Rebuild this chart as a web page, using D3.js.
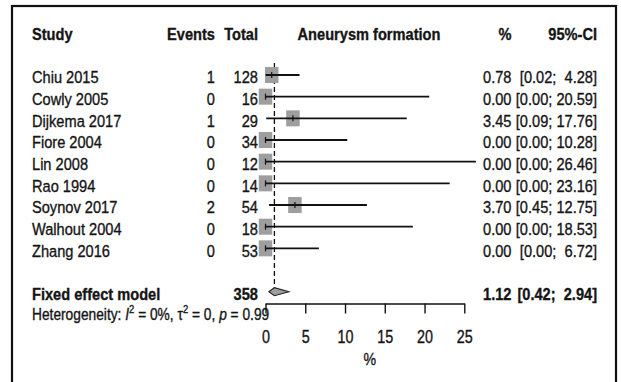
<!DOCTYPE html>
<html>
<head>
<meta charset="utf-8">
<script src="https://cdn.jsdelivr.net/npm/d3@7/dist/d3.min.js"></script>
<style>
  html, body { margin: 0; padding: 0; background: #fff; }
  svg { display: block; }
  text { font-family: "Liberation Sans", Arial, sans-serif; fill: #151515;
         stroke: #151515; stroke-width: 0.35; white-space: pre; }
</style>
</head>
<body>
<script>
// Forest plot: proportion of aneurysm formation per study (fixed effect meta-analysis)
const studies = ["Chiu 2015", "Cowly 2005", "Dijkema 2017", "Fiore 2004", "Lin 2008",
                 "Rao 1994", "Soynov 2017", "Walhout 2004", "Zhang 2016"];
const events  = [1, 0, 1, 0, 0, 0, 2, 0, 0];
const totals  = [128, 16, 29, 34, 12, 14, 54, 18, 53];
const estimates = [0.78, 0.00, 3.45, 0.00, 0.00, 0.00, 3.70, 0.00, 0.00];
const lowers    = [0.02, 0.00, 0.09, 0.00, 0.00, 0.00, 0.45, 0.00, 0.00];
const uppers    = [4.28, 20.59, 17.76, 10.28, 26.46, 23.16, 12.75, 18.53, 6.72];
const pooledLabel = "Fixed effect model";
const pooledTotal = 358;
const pooledEst = 1.12, pooledLower = 0.42, pooledUpper = 2.94;
const xTicks = [0, 5, 10, 15, 20, 25];
const headers = { study: "Study", events: "Events", total: "Total",
                  plot: "Aneurysm formation", pct: "%", ci: "95%-CI" };

const W = 621, H = 382;
const SX = 0.86; // horizontal condensing of all text

const svg = d3.select("body").append("svg").attr("width", W).attr("height", H);

// scales
const x = d3.scaleLinear().domain([0, 25]).range([265.5, 464.3]);
const row = d3.scaleLinear().domain([0, 1]).range([75, 96.67]); // row centre
const base = i => row(i) + 8.3;                                  // text baseline

// column anchors
const colStudy = 32, colEvents = 215, colTotal = 258, colPct = 511.5, colCI = 597;

function txt(g, px, py, s, opt = {}) {
  return g.append("text")
    .attr("transform", `translate(${px},${py}) scale(${SX},1)`)
    .attr("text-anchor", opt.anchor || "start")
    .attr("font-size", opt.size || 17)
    .attr("font-weight", opt.bold ? "bold" : "normal")
    .text(s);
}

// outer frame
svg.append("rect").attr("x", 12).attr("y", 6).attr("width", 604).attr("height", 420)
  .attr("fill", "none").attr("stroke", "#111").attr("stroke-width", 2.2);

const g = svg.append("g");

// header row
const hb = base(-2);
txt(g, colStudy, hb, headers.study, { bold: true });
txt(g, colEvents, hb, headers.events, { bold: true, anchor: "end" });
txt(g, colTotal, hb, headers.total, { bold: true, anchor: "end" });
txt(g, 369, hb, headers.plot, { bold: true, anchor: "middle" });
txt(g, colPct, hb, headers.pct, { bold: true, anchor: "end" });
txt(g, colCI, hb, headers.ci, { bold: true, anchor: "end" });

// pooled-estimate reference line (dashed)
const pooledRow = studies.length + 1;
g.append("line")
  .attr("x1", x(pooledEst)).attr("x2", x(pooledEst))
  .attr("y1", row(0) - 12).attr("y2", row(pooledRow) - 4)
  .attr("stroke", "#111").attr("stroke-width", 1.3).attr("stroke-dasharray", "5,3");

const fmt = d3.format(".2f");
const ciText = (lo, hi) => {
  const h = fmt(hi);
  return "[" + fmt(lo) + ";" + (h.length < 5 ? "  " : " ") + h + "]";
};

studies.forEach((s, i) => {
  const cy = row(i), by = base(i);
  txt(g, colStudy, by, s);
  txt(g, colEvents, by, String(events[i]), { anchor: "end" });
  txt(g, colTotal, by, String(totals[i]), { anchor: "end" });
  txt(g, colPct, by, fmt(estimates[i]), { anchor: "end" });
  txt(g, colCI, by, ciText(lowers[i], uppers[i]), { anchor: "end" });

  // box
  const bw = 13.5, bh = 16;
  g.append("rect")
    .attr("x", x(estimates[i]) - bw / 2).attr("y", cy - bh / 2)
    .attr("width", bw).attr("height", bh)
    .attr("fill", "#9e9e9e");
  // confidence interval
  g.append("line")
    .attr("x1", x(lowers[i])).attr("x2", x(uppers[i]))
    .attr("y1", cy).attr("y2", cy)
    .attr("stroke", "#111").attr("stroke-width", 1.8);
  // point estimate tick
  g.append("line")
    .attr("x1", x(estimates[i])).attr("x2", x(estimates[i]))
    .attr("y1", cy - 3).attr("y2", cy + 3)
    .attr("stroke", "#111").attr("stroke-width", 1.2);
});

// pooled row
const pb = base(pooledRow), pc = row(pooledRow);
txt(g, colStudy, pb, pooledLabel, { bold: true });
txt(g, colTotal, pb, String(pooledTotal), { bold: true, anchor: "end" });
txt(g, colPct, pb, fmt(pooledEst), { bold: true, anchor: "end" });
txt(g, colCI, pb, ciText(pooledLower, pooledUpper), { bold: true, anchor: "end" });

g.append("path")
  .attr("d", `M${x(pooledLower)},${pc} L${x(pooledEst)},${pc - 4} L${x(pooledUpper)},${pc} L${x(pooledEst)},${pc + 4} Z`)
  .attr("fill", "#9e9e9e").attr("stroke", "#222").attr("stroke-width", 1.1);

// heterogeneity line
const het = g.append("text")
  .attr("transform", `translate(${colStudy},${base(pooledRow + 1) - 1.5}) scale(${SX},1)`)
  .attr("font-size", 16);
het.append("tspan").text("Heterogeneity: ");
het.append("tspan").attr("font-style", "italic").text("I");
het.append("tspan").attr("font-size", 11).attr("dy", -7).text("2");
het.append("tspan").attr("dy", 7).text(" = 0%, τ");
het.append("tspan").attr("font-size", 11).attr("dy", -7).text("2");
het.append("tspan").attr("dy", 7).text(" = 0, ");
het.append("tspan").attr("font-style", "italic").text("p");
het.append("tspan").text(" = 0.99");

// x axis
const axisY = 303.5;
const axis = g.append("g").attr("transform", `translate(0,${axisY})`);
axis.call(d3.axisBottom(x).tickValues(xTicks).tickSize(10).tickSizeOuter(0).tickFormat(d3.format("d")));
axis.select(".domain").attr("stroke", "#111").attr("stroke-width", 1.4);
axis.selectAll(".tick line").attr("stroke", "#111").attr("stroke-width", 1.4);
axis.selectAll(".tick text")
  .attr("font-size", 17.5).attr("fill", "#151515")
  .attr("font-family", "'Liberation Sans', Arial, sans-serif")
  .attr("y", 0).attr("dy", 0)
  .attr("transform", `translate(0,39.5) scale(0.82,1)`);

txt(g, (x(0) + x(25)) / 2 + 5, 365, "%", { anchor: "middle", size: 16.5 });
</script>
</body>
</html>
